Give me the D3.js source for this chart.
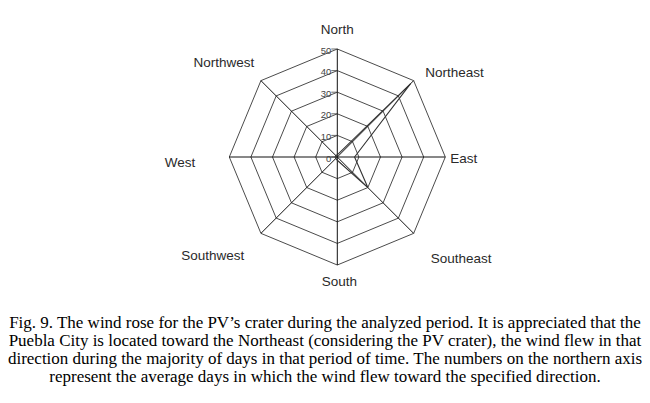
<!DOCTYPE html>
<html>
<head>
<meta charset="utf-8">
<script src="https://cdn.jsdelivr.net/npm/d3@7"></script>
<style>
  html, body { margin: 0; padding: 0; background: #fff; }
  svg { display: block; }
</style>
</head>
<body>
<svg id="chart" width="650" height="403"></svg>
<script>
// ---- data ----
const directions = ["North", "Northeast", "East", "Southeast", "South", "Southwest", "West", "Northwest"];
const days = [1, 48, 8, 20, 1.5, 1, 1, 1];
const tickValues = [0, 10, 20, 30, 40, 50];
const captionLines = [
  "Fig. 9. The wind rose for the PV\u2019s crater during the analyzed period. It is appreciated that the",
  "Puebla City is located toward the Northeast (considering the PV crater), the wind flew in that",
  "direction during the majority of days in that period of time. The numbers on the northern axis",
  "represent the average days in which the wind flew toward the specified direction."
];

// ---- layout ----
const cx = 337.3, cy = 157, R = 108;
const labelLayout = {
  "North":     { dx: 0,    dy: -123, anchor: "middle" },
  "Northeast": { dx: 88,   dy: -80,  anchor: "start" },
  "East":      { dx: 113,  dy: 6,    anchor: "start" },
  "Southeast": { dx: 93.5, dy: 106,  anchor: "start" },
  "South":     { dx: 2,    dy: 129,  anchor: "middle" },
  "Southwest": { dx: -93,  dy: 102.5,anchor: "end" },
  "West":      { dx: -142, dy: 10,   anchor: "end" },
  "Northwest": { dx: -83,  dy: -90,  anchor: "end" }
};

const svg = d3.select("#chart");
const g = svg.append("g").attr("transform", `translate(${cx},${cy})`);

const r = d3.scaleLinear().domain([0, 50]).range([0, R]);
const ang = d => directions.indexOf(d) * 2 * Math.PI / directions.length;

const lineRadial = d3.lineRadial().angle(d => d.a).radius(d => d.r).curve(d3.curveLinearClosed);

// rings
g.selectAll("path.ring").data(tickValues.filter(v => v > 0)).join("path")
  .attr("class", "ring")
  .attr("d", v => lineRadial(directions.map(d => ({ a: ang(d), r: r(v) }))))
  .attr("fill", "none").attr("stroke", "#2a2a2a").attr("stroke-width", 0.85);

// spokes
g.selectAll("line.spoke").data(directions).join("line")
  .attr("class", "spoke")
  .attr("x1", 0).attr("y1", 0)
  .attr("x2", d => r(50) * Math.sin(ang(d)))
  .attr("y2", d => -r(50) * Math.cos(ang(d)))
  .attr("stroke", "#111").attr("stroke-width", 1);

// data polygon
g.append("path")
  .datum(directions.map((d, i) => ({ a: ang(d), r: r(days[i]) })))
  .attr("d", lineRadial)
  .attr("fill", "none").attr("stroke", "#333").attr("stroke-width", 1.1);

// ticks along north axis
const tk = g.selectAll("g.tick").data(tickValues).join("g")
  .attr("class", "tick")
  .attr("transform", v => `translate(0,${-r(v)})`);
tk.append("line").attr("x1", -6).attr("x2", 0).attr("stroke", "#444").attr("stroke-width", 0.8);
tk.append("text")
  .attr("x", -6).attr("y", 1.5).attr("dy", "0.32em")
  .attr("text-anchor", "end")
  .attr("font-family", "Liberation Sans, Arial, sans-serif")
  .attr("font-size", 9.5).attr("fill", "#444")
  .text(v => v);

// direction labels
g.selectAll("text.dir").data(directions).join("text")
  .attr("class", "dir")
  .attr("x", d => labelLayout[d].dx)
  .attr("y", d => labelLayout[d].dy)
  .attr("text-anchor", d => labelLayout[d].anchor)
  .attr("font-family", "Liberation Sans, Arial, sans-serif")
  .attr("font-size", 13.5).attr("fill", "#2a2a2a")
  .text(d => d);

// caption
const capText = svg.append("g").selectAll("text").data(captionLines).join("text")
  .attr("x", 325)
  .attr("y", (d, i) => 328 + i * 18)
  .attr("text-anchor", "middle")
  .attr("font-family", "Liberation Serif, Times New Roman, serif")
  .attr("font-size", 15).attr("fill", "#000")
  .text(d => d);
const w0 = capText.nodes()[0].getComputedTextLength();
capText.attr("font-size", 15 * 632 / w0);
</script>
</body>
</html>
